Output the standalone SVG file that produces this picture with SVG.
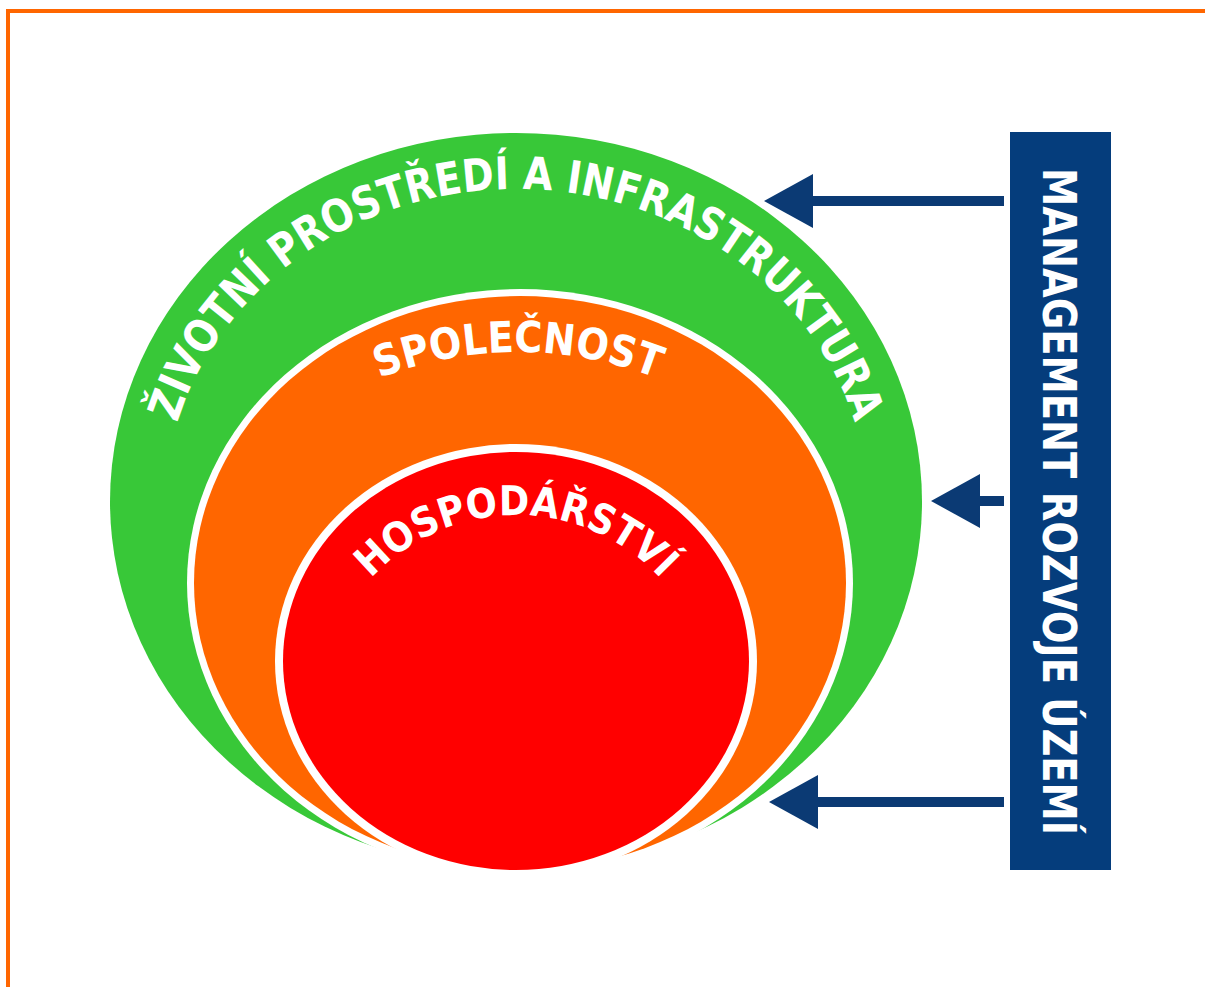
<svg xmlns="http://www.w3.org/2000/svg" xmlns:xlink="http://www.w3.org/1999/xlink" width="1205" height="987" viewBox="0 0 1205 987">
<style>
.lbl{font-family:"DejaVu Sans","Liberation Sans",sans-serif;font-weight:bold;fill:#ffffff;}
.conn{stroke:#0b3a74;stroke-width:10;fill:none;}
.gap{fill:#ffffff;}
</style>
<defs>
<marker id="head" markerUnits="userSpaceOnUse" markerWidth="50" markerHeight="56" viewBox="0 0 50 56" refX="0" refY="27" orient="auto">
<path d="M0,0 L49,27 L0,54 Z" fill="#0b3a74"/>
</marker>
<path id="pEnv" d="M164,510 A352,321 0 0 1 868,510"/>
<path id="pSoc" d="M138,732 A380,380 0 0 1 898,732"/>
<path id="pEco" d="M319,712 A197,197 0 0 1 713,712"/>
</defs>
<rect width="1205" height="987" fill="#ffffff"/>
<g id="frame"><path d="M8,987 V11 H1205" fill="none" stroke="#ff6600" stroke-width="4"/></g>
<g id="node-environment">
<ellipse cx="516" cy="501.5" rx="406" ry="368.5" fill="#38c838"/>
<text class="lbl" font-size="45" text-anchor="middle"><textPath xlink:href="#pEnv" href="#pEnv" startOffset="50%" textLength="880" lengthAdjust="spacingAndGlyphs">ŽIVOTNÍ PROSTŘEDÍ A INFRASTRUKTURA</textPath></text>
</g>
<g id="node-society">
<ellipse class="gap" cx="520" cy="583" rx="333" ry="294"/>
<ellipse cx="520" cy="583" rx="326" ry="287" fill="#ff6600"/>
<text class="lbl" font-size="43" text-anchor="middle"><textPath xlink:href="#pSoc" href="#pSoc" startOffset="50%" textLength="284" lengthAdjust="spacingAndGlyphs">SPOLEČNOST</textPath></text>
</g>
<g id="node-economy">
<ellipse class="gap" cx="516" cy="661" rx="241" ry="217"/>
<ellipse cx="516" cy="661" rx="233" ry="209" fill="#ff0000"/>
<text class="lbl" font-size="41" text-anchor="middle"><textPath xlink:href="#pEco" href="#pEco" startOffset="50%" textLength="326" lengthAdjust="spacingAndGlyphs">HOSPODÁŘSTVÍ</textPath></text>
</g>
<g id="node-management">
<rect x="1010" y="132" width="101" height="738" fill="#053d7c"/>
<text class="lbl" font-size="47" transform="translate(1043,168) rotate(90)" textLength="667" lengthAdjust="spacingAndGlyphs">MANAGEMENT ROZVOJE ÚZEMÍ</text>
</g>
<g id="connectors">
<line class="conn" x1="1004" y1="201" x2="813" y2="201" marker-end="url(#head)"/>
<line class="conn" x1="1004" y1="501" x2="980" y2="501" marker-end="url(#head)"/>
<line class="conn" x1="1004" y1="802" x2="818" y2="802" marker-end="url(#head)"/>
</g>
</svg>
